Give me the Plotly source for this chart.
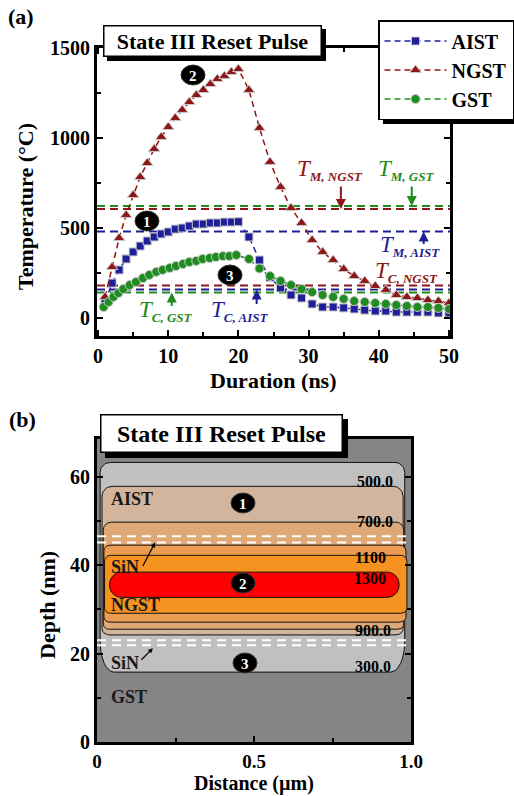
import math
import plotly.graph_objects as go

W, H = 514, 796
FONT = "Liberation Serif"

# ---------------- Panel (a) data: temperature vs duration ----------------
t_aist = [1, 2, 3, 4, 5, 6, 7, 8, 9, 10, 11, 12, 13, 14, 15, 16, 17, 18, 19, 20,
          21.5, 23, 24.5, 26, 27.5, 29, 30.5, 32, 33.5, 35, 36.5, 38, 39.5, 41, 42.5, 44, 45.5, 47, 48.5, 50]
T_aist = [89, 194, 267, 328, 367, 400, 428, 450, 467, 478, 494, 500, 511, 522, 522, 528, 528, 533, 533, 535,
          450, 322, 225, 167, 128, 111, 78, 61, 61, 56, 50, 44, 39, 39, 33, 33, 33, 33, 28, 28]

t_ngst = [1, 2, 3, 4, 5, 6, 7, 8, 9, 10, 11, 12, 13, 14, 15, 16, 17, 18, 19, 20,
          21.5, 23, 24.5, 26, 27.5, 29, 30.5, 32, 33.5, 35, 36.5, 38, 39.5, 41, 42.5, 44, 45.5, 47, 48.5, 50]
T_ngst = [117, 283, 444, 572, 683, 783, 861, 939, 1006, 1061, 1111, 1156, 1200, 1239, 1267, 1300, 1328, 1344, 1367, 1383,
          1267, 1056, 867, 728, 611, 528, 433, 367, 322, 272, 233, 206, 178, 156, 128, 117, 111, 100, 94, 83]

t_gst = [0.8, 1.5, 2.2, 2.9, 3.6, 4.5, 5.4, 6.4, 7.3, 8.3, 9.2, 10.2, 11.1, 12.1, 13.0, 14.0, 14.9, 15.9, 16.8, 17.8, 18.7, 19.7,
         21.5, 23, 24.5, 26, 27.5, 29, 30.5, 32, 33.5, 35, 36.5, 38, 39.5, 41, 42.5, 44, 45.5, 47, 48.5, 50]
T_gst = [61, 89, 117, 139, 161, 183, 200, 222, 239, 256, 267, 278, 289, 300, 311, 317, 328, 333, 339, 344, 344, 350,
         328, 275, 233, 206, 183, 161, 144, 128, 117, 106, 94, 89, 83, 78, 72, 67, 61, 61, 56, 50]

# threshold temperatures (melting T_M / crystallization T_C)
thr_series = ["GST", "NGST", "AIST", "NGST", "AIST", "GST"]
thr_kind = ["M", "M", "M", "C", "C", "C"]
thr_values = [622, 605, 480, 180, 158, 142]

# ---------------- Panel (b) data: isotherm contours ----------------
iso_levels = [300, 500, 700, 900, 1100, 1300]
iso_top = [63.2, 57.8, 49.7, 44.5, 42.2, 38.4]        # nm
iso_bottom = [15.8, 24.2, 25.5, 27.1, 29.1, 32.7]     # nm
iso_left = [0.010, 0.016, 0.020, 0.022, 0.024, 0.040]  # um
iso_right = [0.980, 0.975, 0.977, 0.984, 0.987, 0.962] # um
iso_label_text = ["300.0", "500.0", "700.0", "900.0", "1100", "1300"]
sin_depths = [46.5, 45.1, 23.0, 21.9]                  # SiN interfaces (nm)

C_AIST, C_NGST, C_GST = "#1f1f99", "#8e1616", "#1e8c1e"
series_color = {"AIST": C_AIST, "NGST": C_NGST, "GST": C_GST}
iso_colors = ["#c0c0c0", "#d2b59c", "#dfa977", "#ea9c50", "#f6921f", "#ff0000"]

def PX(px):
    return px / W

def PY(py):
    return 1 - py / H

A_X = (97, 450); A_Y = (48, 336)
B_X = (97, 411); B_Y = (439, 742)
B_XR = (0, 1.0); B_YR = (0, 68.5)
PXX = (B_X[1] - B_X[0]) / (B_XR[1] - B_XR[0])
PXY = (B_Y[1] - B_Y[0]) / (B_YR[1] - B_YR[0])

fig = go.Figure()

for s, k, v in zip(thr_series, thr_kind, thr_values):
    fig.add_trace(go.Scatter(x=[-0.15, 50.15], y=[v, v], mode="lines", showlegend=False,
                             line=dict(color=series_color[s], width=2, dash="8px,5px"),
                             xaxis="x", yaxis="y", hoverinfo="skip"))

halo = dict(color="#c8c8c8", width=1)
fig.add_trace(go.Scatter(x=t_aist, y=T_aist, mode="lines+markers", name="AIST",
                         line=dict(color=C_AIST, width=1.5, dash="6px,4px"),
                         marker=dict(symbol="square", size=8, color=C_AIST, line=halo),
                         xaxis="x", yaxis="y"))
fig.add_trace(go.Scatter(x=t_ngst, y=T_ngst, mode="lines+markers", name="NGST",
                         line=dict(color=C_NGST, width=1.5, dash="6px,4px"),
                         marker=dict(symbol="triangle-up", size=10, color=C_NGST, line=halo),
                         xaxis="x", yaxis="y"))
fig.add_trace(go.Scatter(x=t_gst, y=T_gst, mode="lines+markers", name="GST",
                         line=dict(color=C_GST, width=1.5, dash="6px,4px"),
                         marker=dict(symbol="circle", size=9, color=C_GST, line=halo),
                         xaxis="x", yaxis="y"))

def rrect(x0, x1, y0, y1, rt, rb, n=10):
    xs, ys = [], []
    def arc(cx, cy, rx, ry, a0, a1):
        for i in range(n + 1):
            a = math.radians(a0 + (a1 - a0) * i / n)
            xs.append(cx + rx * math.cos(a)); ys.append(cy + ry * math.sin(a))
    rtx, rty = rt[0] / PXX, rt[1] / PXY
    rbx, rby = rb[0] / PXX, rb[1] / PXY
    arc(x1 - rtx, y1 - rty, rtx, rty, 0, 90)
    arc(x0 + rtx, y1 - rty, rtx, rty, 90, 180)
    arc(x0 + rbx, y0 + rby, rbx, rby, 180, 270)
    arc(x1 - rbx, y0 + rby, rbx, rby, 270, 360)
    xs.append(xs[0]); ys.append(ys[0])
    return xs, ys

corner_top = [(10, 10), (10, 10), (8, 8), (6, 6), (6, 6), (12, 12)]
corner_bot = [(14, 30), (8, 6), (6, 5), (6, 5), (6, 5), (12, 12)]
for i, lev in enumerate(iso_levels):
    xs, ys = rrect(iso_left[i], iso_right[i], iso_bottom[i], iso_top[i], corner_top[i], corner_bot[i])
    fig.add_trace(go.Scatter(x=xs, y=ys, mode="lines", fill="toself", fillcolor=iso_colors[i],
                             line=dict(color="#111111", width=1), showlegend=False,
                             xaxis="x2", yaxis="y2", hoverinfo="skip"))

for d in sin_depths:
    fig.add_trace(go.Scatter(x=[0, 1.0], y=[d, d], mode="lines", showlegend=False,
                             line=dict(color="white", width=2, dash="9px,6px"),
                             xaxis="x2", yaxis="y2", hoverinfo="skip"))

def axis(domain, anchor, rng, major, minor_dtick, fsize=20, **kw):
    d = dict(domain=domain, anchor=anchor, range=rng, showline=True, linecolor="black", linewidth=3,
             mirror="ticks", ticks="inside", ticklen=6, tickwidth=2, tickcolor="black",
             showgrid=False, zeroline=False, fixedrange=True,
             tickfont=dict(family=FONT, size=fsize, weight="bold", color="black"),
             minor=dict(ticks="inside", ticklen=4, tickwidth=2, tickcolor="black", dtick=minor_dtick, showgrid=False))
    d.update(major)
    d.update(kw)
    return d

layout = dict(
    width=W, height=H, margin=dict(l=0, r=0, t=0, b=0, autoexpand=False),
    paper_bgcolor="white", plot_bgcolor="white",
    font=dict(family=FONT, color="black"),
    legend=dict(x=1.0, y=PY(20), xanchor="right", yanchor="top", bgcolor="white",
                bordercolor="black", borderwidth=1.5, tracegroupgap=0, itemwidth=62,
                font=dict(family=FONT, size=20, weight="bold", color="black")),
    xaxis=axis([PX(A_X[0]), PX(A_X[1])], "y", [-0.15, 50.15], dict(tickvals=[0, 10, 20, 30, 40, 50]), 5),
    yaxis=axis([PY(A_Y[1]), PY(A_Y[0])], "x", [-100, 1500], dict(tickvals=[0, 500, 1000, 1500]), 250),
    xaxis2=axis([PX(B_X[0]), PX(B_X[1])], "y2", list(B_XR),
                dict(tickvals=[0, 0.5, 1.0], ticktext=["0", "0.5", "1.0"]), 0.25, fsize=19),
    yaxis2=axis([PY(B_Y[1]), PY(B_Y[0])], "x2", list(B_YR), dict(tickvals=[0, 20, 40, 60]), 10),
)
fig.update_layout(**layout)

shapes = []
ann = []

shapes.append(dict(type="rect", xref="x2 domain", yref="y2 domain", x0=0, x1=1, y0=0, y1=1,
                   fillcolor="#858585", line=dict(width=0), layer="below"))

def text(px, py, s, size=22, color="black", bold=True, italic=False, angle=0, xanchor="center", **kw):
    f = dict(family=FONT, size=size, color=color, weight="bold" if bold else "normal",
             style="italic" if italic else "normal")
    a = dict(xref="paper", yref="paper", x=PX(px), y=PY(py), text=s, showarrow=False, font=f,
             textangle=angle, xanchor=xanchor, yanchor="middle")
    a.update(kw)
    ann.append(a)

def titlebox(x0, y0, x1, y1, size, off):
    shapes.append(dict(type="rect", xref="paper", yref="paper", x0=PX(x0 + off), x1=PX(x1 + off),
                       y0=PY(y1 + off), y1=PY(y0 + off), fillcolor="black", line=dict(width=0), layer="above"))
    text((x0 + x1) / 2, (y0 + y1) / 2, "State III Reset Pulse", size=size,
         bgcolor="white", bordercolor="black", borderwidth=1.5, borderpad=0,
         width=x1 - x0 - 3, height=y1 - y0 - 3)

titlebox(103, 25, 322, 57, 22, 4)
titlebox(100, 414, 343, 453, 24, 5)

# legend drop shadow (bottom strip; the right part runs off the page)
shapes.append(dict(type="rect", xref="paper", yref="paper", x0=PX(383), x1=PX(514), y0=PY(124), y1=PY(26),
                   fillcolor="black", line=dict(width=0), layer="above"))

text(21, 17, "(a)")
text(22, 419, "(b)")
text(25, 207, "Temperature (°C)", angle=-90)
text(273, 381, "Duration (ns)")
text(47, 605, "Depth (nm)", angle=-90)
text(254, 783, "Distance (µm)", size=20)

def circ(cx, cy, s):
    shapes.append(dict(type="circle", xref="paper", yref="paper", x0=PX(cx - 12), x1=PX(cx + 12),
                       y0=PY(cy + 10), y1=PY(cy - 10), fillcolor="black", line=dict(color="#333", width=1),
                       layer="above"))
    text(cx, cy + 1, s, size=15, color="white")

circ(193, 75, "2"); circ(147, 221, "1"); circ(230, 275, "3")
circ(243, 503, "1"); circ(243, 583, "2"); circ(245, 663, "3")

tlabels = [
    ((330, 170), "M, NGST", C_NGST),
    ((406, 170), "M, GST", C_GST),
    ((410, 246), "M, AIST", C_AIST),
    ((406, 272), "C, NGST", C_NGST),
    ((166, 311), "C, GST", C_GST),
    ((239, 311), "C, AIST", C_AIST),
]
for (tp, sub, col) in tlabels:
    s = "T<sub><span style='font-size:13px;font-weight:bold'>%s</span></sub>" % sub
    text(tp[0], tp[1], s, size=23, color=col, bold=False, italic=True)

arrows_a = [(34.6, 605, -24, C_NGST), (44.7, 622, -21, C_GST), (46.4, 480, 14, C_AIST),
            (10.5, 142, 15, C_GST), (22.6, 158, 16, C_AIST)]
for x, y, ay, col in arrows_a:
    ann.append(dict(xref="x", yref="y", x=x, y=y, ax=0, ay=ay, text="", showarrow=True,
                    arrowhead=2, arrowsize=1, arrowwidth=2, arrowcolor=col))

for s, py in [("AIST", 499), ("SiN", 567), ("NGST", 605), ("SiN", 663), ("GST", 697)]:
    text(109, py, s, size=18, color="#1a1a1a", xanchor="left")
label_pos = {"500.0": (375, 481), "700.0": (375, 521), "1100": (370, 557), "1300": (370, 578),
             "900.0": (373, 630), "300.0": (373, 666)}
for s in iso_label_text:
    text(label_pos[s][0], label_pos[s][1], s, size=16)

for hx, hy, ax, ay in [(0.185, 45.1, -13, 25), (0.178, 21.2, -13, 13)]:
    ann.append(dict(xref="x2", yref="y2", x=hx, y=hy, ax=ax, ay=ay, text="", showarrow=True,
                    arrowhead=2, arrowsize=0.8, arrowwidth=1.2, arrowcolor="black"))

fig.update_layout(shapes=shapes, annotations=ann)
fig.write_html("out.html")
